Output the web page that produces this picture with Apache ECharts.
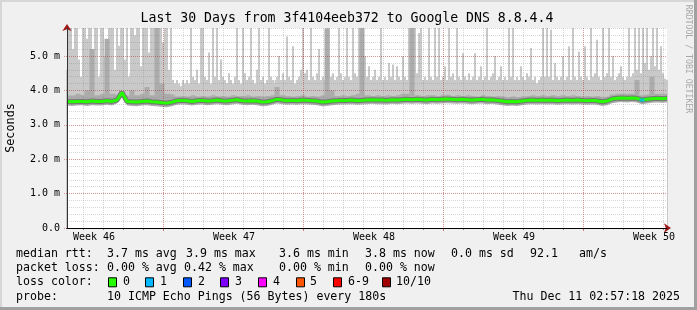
<!DOCTYPE html>
<html><head><meta charset="utf-8">
<script src="https://cdn.jsdelivr.net/npm/echarts@6/dist/echarts.min.js"></script>
<style>html,body{margin:0;padding:0;background:#f0f0f0}#c{width:697px;height:310px}</style>
</head><body><div id="c"></div>
<script>
// ---------------- data ----------------
const titleText = 'Last 30 Days from 3f4104eeb372 to Google DNS 8.8.4.4';
const weekLabels = ['Week 46', 'Week 47', 'Week 48', 'Week 49', 'Week 50'];
const yMajorTicks = [0, 1, 2, 3, 4, 5];           // ms
// x in days since graph start; smokeMax (slowest ping, spikes) every 0.1 day, the others every 0.25 day
const smokeMax = [
  4.6,6.5,6.5,5.2,6.5,6.5,4.9,4.3,6.5,6.5,5.5,6.5,6.5,4.8,6.5,6.5,4.4,6.5,6.5,5.0,
  4.5,6.5,6.5,6.5,4.6,6.5,5.3,6.5,6.5,4.9,6.5,4.4,6.5,6.5,5.6,6.5,6.5,4.7,6.5,6.5,
  6.5,5.1,6.5,6.5,6.5,6.5,6.5,6.5,5.4,6.5,6.5,4.6,6.5,4.3,4.2,4.3,4.2,4.1,4.3,4.2,
  4.3,4.2,6.5,4.4,4.3,4.6,4.2,6.5,6.5,4.4,4.3,5.1,4.2,6.5,4.4,6.5,4.3,4.9,4.4,4.3,
  4.2,4.5,4.3,4.2,4.4,6.5,4.3,4.2,6.5,4.5,4.3,4.4,6.5,4.3,4.2,4.6,6.5,4.3,4.4,4.2,
  4.3,6.5,4.4,4.3,4.2,4.4,5.0,4.3,4.5,4.3,5.57,4.4,4.3,5.28,4.2,4.3,4.4,4.6,6.5,4.5,
  4.6,4.3,6.5,4.4,4.3,4.5,5.2,4.3,4.4,4.3,6.5,6.5,4.4,4.5,4.3,4.4,6.5,4.5,4.3,4.4,
  6.5,4.4,4.3,6.5,4.5,4.4,6.5,6.5,6.5,5.0,4.4,4.7,4.3,4.4,4.6,4.3,4.4,6.5,4.3,4.4,
  4.3,4.8,4.4,4.75,4.3,4.7,4.4,4.3,5.0,4.4,4.3,6.5,6.5,6.5,6.5,4.5,5.67,6.5,4.3,4.4,
  4.3,6.5,4.4,4.3,6.5,4.4,6.5,4.3,4.4,4.7,4.3,6.5,4.4,4.5,4.3,6.5,4.4,4.3,5.08,4.4,
  4.3,4.5,4.3,4.4,5.08,4.3,4.4,4.7,4.3,4.4,6.5,4.3,4.4,4.5,5.0,4.3,4.4,4.7,4.3,4.4,
  4.3,6.5,4.4,6.5,4.3,4.4,4.3,4.7,4.4,4.3,4.5,4.4,5.23,4.3,4.4,4.21,4.3,4.4,6.5,4.4,
  6.5,4.4,5.76,4.3,4.8,4.4,4.3,4.4,5.0,4.3,4.4,5.28,4.3,6.5,4.4,4.3,5.13,4.4,4.3,5.28,
  4.4,4.3,6.5,4.4,4.5,5.47,4.4,4.3,6.5,4.4,4.5,6.5,4.4,5.0,4.3,4.4,4.5,4.7,4.4,4.3,
  4.4,6.5,4.4,4.5,6.5,4.6,6.5,4.5,6.5,4.8,6.5,4.6,5.0,6.5,4.7,6.5,4.6,5.28,4.5,4.31,4.3
];
const smokeUpper = [
  4.4,4.5,4.3,4.4,4.6,4.4,4.3,4.5,4.4,4.3,
  4.2,4.3,4.4,4.5,4.3,4.4,4.5,4.3,4.4,4.6,
  4.4,4.2,4.1,4.15,4.1,4.2,4.1,4.15,4.2,4.1,
  4.15,4.1,4.2,4.1,4.15,4.1,4.2,4.15,4.1,4.2,
  4.1,4.15,4.3,4.1,4.2,4.1,4.15,4.2,4.1,4.15,
  4.1,4.2,4.15,4.1,4.2,4.15,4.1,4.2,4.3,4.25,
  4.15,4.1,4.2,4.15,4.1,4.15,4.2,4.1,4.2,4.3,
  4.15,4.1,4.2,4.15,4.1,4.2,4.15,4.1,4.2,4.15,
  4.1,4.15,4.2,4.1,4.15,4.2,4.1,4.15,4.1,4.2,
  4.15,4.1,4.2,4.15,4.1,4.2,4.15,4.1,4.2,4.15,
  4.1,4.15,4.2,4.1,4.15,4.2,4.1,4.15,4.2,4.25,
  4.2,4.3,4.25,4.2,4.3,4.35,4.3,4.4,4.3,4.35,4.3
];
const smokeMid = [
  3.86,3.85,3.9,3.86,4.0,5.2,3.86,3.9,5.5,3.9,
  3.86,4.0,3.85,4.0,3.86,3.9,4.1,3.86,6.5,4.2,
  3.9,3.88,3.82,3.84,3.82,3.86,3.82,3.84,3.82,3.86,
  3.83,3.84,3.82,3.86,3.84,3.84,3.86,3.82,3.84,3.82,
  3.84,3.86,4.1,3.86,3.84,3.82,3.84,3.86,3.82,3.84,
  3.82,3.86,5.8,4.0,3.84,3.86,3.84,3.86,3.9,6.5,
  3.86,3.84,3.86,3.84,3.86,3.84,3.86,3.9,3.9,6.5,
  3.86,3.84,3.86,3.86,3.84,3.86,3.87,3.84,3.86,3.84,
  3.86,3.84,3.82,3.86,3.84,3.82,3.84,3.82,3.8,3.82,
  3.8,3.82,3.84,3.86,3.84,3.86,3.84,3.86,3.84,3.86,
  3.84,3.86,3.84,3.82,3.84,3.82,3.84,3.8,3.82,3.88,
  3.9,3.9,3.9,3.9,4.3,3.86,3.88,4.4,3.9,3.9,3.9
];
const smokeLow = [
  3.56,3.55,3.56,3.57,3.55,3.57,3.56,3.56,3.58,3.56,
  3.62,3.86,3.56,3.55,3.54,3.56,3.57,3.55,3.54,3.52,
  3.51,3.54,3.58,3.59,3.58,3.56,3.58,3.59,3.57,3.58,
  3.60,3.58,3.57,3.59,3.61,3.58,3.57,3.58,3.57,3.54,
  3.55,3.58,3.62,3.60,3.58,3.59,3.58,3.60,3.59,3.58,
  3.57,3.54,3.55,3.57,3.58,3.59,3.59,3.60,3.58,3.59,
  3.60,3.61,3.60,3.60,3.59,3.61,3.60,3.61,3.62,3.61,
  3.62,3.61,3.60,3.62,3.61,3.62,3.63,3.62,3.61,3.62,
  3.61,3.60,3.61,3.62,3.60,3.61,3.59,3.57,3.55,3.56,
  3.55,3.57,3.59,3.60,3.59,3.60,3.59,3.60,3.58,3.59,
  3.60,3.59,3.60,3.59,3.58,3.59,3.58,3.55,3.57,3.63,
  3.65,3.66,3.65,3.66,3.65,3.60,3.62,3.64,3.65,3.64,3.65
];
const median = [
  3.68,3.67,3.68,3.68,3.67,3.69,3.68,3.68,3.70,3.68,
  3.72,3.94,3.68,3.67,3.66,3.68,3.69,3.67,3.66,3.64,
  3.63,3.66,3.70,3.71,3.70,3.68,3.70,3.71,3.69,3.70,
  3.72,3.70,3.69,3.71,3.73,3.70,3.69,3.70,3.69,3.66,
  3.67,3.70,3.74,3.72,3.70,3.71,3.70,3.72,3.71,3.70,
  3.69,3.66,3.67,3.69,3.70,3.71,3.71,3.72,3.70,3.71,
  3.72,3.73,3.72,3.72,3.71,3.73,3.72,3.73,3.74,3.73,
  3.74,3.73,3.72,3.74,3.73,3.74,3.75,3.74,3.73,3.74,
  3.73,3.72,3.73,3.74,3.72,3.73,3.71,3.69,3.67,3.68,
  3.67,3.69,3.71,3.72,3.71,3.72,3.71,3.72,3.70,3.71,
  3.72,3.71,3.72,3.71,3.70,3.71,3.70,3.67,3.69,3.75,
  3.77,3.78,3.77,3.78,3.77,3.72,3.74,3.76,3.77,3.76,3.77
];
// pings lost (of 10) per median sample; only non-zero entries listed
const lossAt = { 115: 1 };
const lossColors = ['#26ff00','#00b8ff','#0059ff','#7e00ff','#ff00ff','#ff5500','#ff0000','#a10000'];
const lossNames  = ['0','1','2','3','4','5','6-9','10/10'];
const rttLabel = 'median rtt:';
const rttStats = ['3.7 ms avg','3.9 ms max','3.6 ms min','3.8 ms now','0.0 ms sd','92.1','am/s'];
const lossLabel = 'packet loss:';
const lossStats = ['0.00 % avg','0.42 % max','0.00 % min','0.00 % now'];
const probeLabel = 'probe:';
const probeText = '10 ICMP Echo Pings (56 Bytes) every 180s';
const stampText = 'Thu Dec 11 02:57:18 2025';

// ---------------- layout ----------------
const PX_PER_MS = 34.4;
const PL = 67, PW = 600, PB = 228, PH = 200, PT = PB - PH;
const MONO = 'DejaVu Sans Mono';
const rttX = [107,186,279,365,451,530,579];
const lossX = [107,184,279,365];
const boxX = [108,145,183,220,258,296,333,382];
const boxTextX = [123,160,198,235,273,310,348,396];
const rowY = [254,268.3,282.3,296.7];

function txt(x, y, s, o) {
  o = o || {};
  return { type:'text', x, y, rotation: o.rot || 0, silent:true, z: 20,
    style: { text: s, fill: o.fill || '#000', fontFamily: MONO, fontSize: o.size || 11.6,
      align: o.align || 'left', textAlign: o.align || 'left',
      verticalAlign: 'middle', textVerticalAlign: 'middle' } };
}
const graphics = [];
graphics.push({type:'rect', shape:{x:0,y:0,width:697,height:2}, style:{fill:'#d6d6d6'}, silent:true});
graphics.push({type:'rect', shape:{x:0,y:0,width:2,height:310}, style:{fill:'#d6d6d6'}, silent:true});
graphics.push({type:'rect', shape:{x:694,y:0,width:3,height:310}, style:{fill:'#a0a0a0'}, silent:true});
graphics.push({type:'rect', shape:{x:0,y:307,width:697,height:3}, style:{fill:'#a0a0a0'}, silent:true});
graphics.push(txt(347, 18.5, titleText, {align:'center', size:13.2}));
graphics.push(txt(11, 128, 'Seconds', {align:'center', size:11.8, rot: Math.PI/2}));
graphics.push(txt(688, 59, 'RRDTOOL / TOBI OETIKER', {align:'center', size:8.2, rot: -Math.PI/2, fill:'#a8a8a8'}));
graphics.push(txt(16, rowY[0], rttLabel));
rttStats.forEach((s,i)=>graphics.push(txt(rttX[i], rowY[0], s)));
graphics.push(txt(16, rowY[1], lossLabel));
lossStats.forEach((s,i)=>graphics.push(txt(lossX[i], rowY[1], s)));
graphics.push(txt(16, rowY[2], 'loss color:'));
lossNames.forEach((s,i)=>{
  graphics.push({type:'rect', silent:true, z:20, shape:{x:boxX[i]+0.5, y:rowY[2]-4.5, width:8, height:9},
    style:{fill:lossColors[i], stroke:'#000', lineWidth:1}});
  graphics.push(txt(boxTextX[i], rowY[2], s));
});
graphics.push(txt(16, rowY[3], probeLabel));
graphics.push(txt(107, rowY[3], probeText));
graphics.push(txt(680, rowY[3], stampText, {align:'right'}));

const hidden = (g, extra) => Object.assign({ type:'value', gridIndex:g, min:0, max:1, show:false }, extra || {});
const minorLine = { show:true, lineStyle:{ color:'rgba(130,130,130,0.32)', width:1, type:[1,1] } };
const majorLine = { show:true, lineStyle:{ color:'rgba(200,30,30,0.36)', width:1, type:[1,1] } };
const noAx = { axisLine:{show:false}, axisTick:{show:false}, axisLabel:{show:false}, splitLine:{show:false} };

const grids = [
  { left:PL, top:PT, width:PW, height:PH, show:true, backgroundColor:'#ffffff', borderWidth:0 }, // 0 data
  { left:PL, top:PB - 5.8*PX_PER_MS, width:PW, height:5.8*PX_PER_MS },                           // 1 minor horizontal
  { left:PL, top:PB - 5*PX_PER_MS, width:PW, height:5*PX_PER_MS },                               // 2 major horizontal
  { left:PL+16, top:PT, width:580, height:PH },                                                  // 3 day lines
  { left:PL+96, top:PT, width:420, height:PH },                                                  // 4 week lines
  { left:PL+27, top:PT, width:560, height:PH },                                                  // 5 week labels
  { left:PL, top:PT, width:PW, height:PH }                                                       // 6 black axes
].map(g => Object.assign({ outerBoundsMode:'none', containLabel:false }, g));

const xAxes = [
  Object.assign({ type:'value', gridIndex:0, min:0, max:30, z:6 }, noAx,
    { axisLine:{ show:true, onZero:false, lineStyle:{color:'#a01818', width:1}, symbol:['none','arrow'], symbolSize:[7,7], symbolOffset:[0,4] } }),
  hidden(1), hidden(2),
  Object.assign({ type:'value', gridIndex:3, min:0, max:29, interval:1, z:3 }, noAx,
    { splitLine: minorLine, axisTick:{ show:true, length:2, lineStyle:{color:'#888'} } }),
  Object.assign({ type:'value', gridIndex:4, min:0, max:3, interval:1, z:4 }, noAx,
    { splitLine: majorLine, axisTick:{ show:true, length:3, lineStyle:{color:'#d07070'} } }),
  Object.assign({ type:'value', gridIndex:5, min:0, max:4, interval:1, z:3 }, noAx,
    { axisLabel:{ show:true, margin:4, color:'#000', fontFamily:MONO, fontSize:10, showMinLabel:true, showMaxLabel:true,
      formatter: v => weekLabels[Math.round(v)] || '' } }),
  Object.assign({ type:'value', gridIndex:6, min:0, max:1, z:7 }, noAx,
    { axisLine:{ show:true, onZero:false, lineStyle:{color:'#000', width:1} } })
];
const yAxes = [
  Object.assign({ type:'value', gridIndex:0, min:0, max:PH/PX_PER_MS, z:6 }, noAx,
    { axisLine:{ show:true, onZero:false, lineStyle:{color:'#a01818', width:1}, symbol:['none','arrow'], symbolSize:[7,7], symbolOffset:[0,4] } }),
  Object.assign({ type:'value', gridIndex:1, min:0, max:5.8, interval:0.2, z:3 }, noAx, { splitLine: minorLine }),
  Object.assign({ type:'value', gridIndex:2, min:yMajorTicks[0], max:yMajorTicks[yMajorTicks.length-1], interval:1, z:4 }, noAx,
    { splitLine: majorLine,
      axisTick:{ show:true, length:4, lineStyle:{ color:'rgba(200,30,30,0.45)', type:[1,1] } },
      axisLabel:{ show:true, margin:7, color:'#000', fontFamily:MONO, fontSize:10,
        formatter: v => v === 0 ? '0.0' : v.toFixed(1) + ' m' } }),
  hidden(3), hidden(4), hidden(5),
  Object.assign({ type:'value', gridIndex:6, min:0, max:1, z:7 }, noAx,
    { axisLine:{ show:true, onZero:false, lineStyle:{color:'#333', width:1} } })
];

const q = (arr, step) => arr.map((v,i)=>[+(i*step).toFixed(4), v]);
const lossPts = median.map((v,i)=> lossAt[i] ? { value:[i*0.25, v], itemStyle:{color: lossColors[lossAt[i]]} } : null).filter(Boolean);
const LIGHT = '#c9c9c9';

const series = [
  { type:'bar', data:q(smokeMax,0.1), barWidth:2, itemStyle:{color:LIGHT}, z:1, silent:true, clip:true },
  { type:'line', data:q(smokeUpper,0.25), step:'middle', symbol:'none', lineStyle:{width:0},
    areaStyle:{color:LIGHT, origin:'start', opacity:1}, z:1.1, silent:true },
  { type:'line', data:q(smokeMid,0.25), step:'middle', symbol:'none', lineStyle:{width:0},
    areaStyle:{color:'#acacac', origin:'start', opacity:1}, z:1.2, silent:true },
  { type:'line', data:q(smokeLow,0.25), symbol:'none', lineStyle:{width:0},
    areaStyle:{color:'#ffffff', origin:'start', opacity:1}, z:1.3, silent:true },
  { type:'line', data:q(median,0.25), symbol:'none', lineStyle:{width:5, color:'#767676'}, z:4, silent:true },
  { type:'line', data:q(median,0.25), symbol:'none', lineStyle:{width:3, color:lossColors[0]}, z:5, silent:true },
  { type:'scatter', data:lossPts, symbol:'rect', symbolSize:[5,3], z:6, silent:true }
];

const chart = echarts.init(document.getElementById('c'), null, { renderer:'canvas' });
chart.setOption({
  backgroundColor:'#f0f0f0', animation:false,
  grid: grids, xAxis: xAxes, yAxis: yAxes, series, graphic: graphics
});
</script></body></html>
